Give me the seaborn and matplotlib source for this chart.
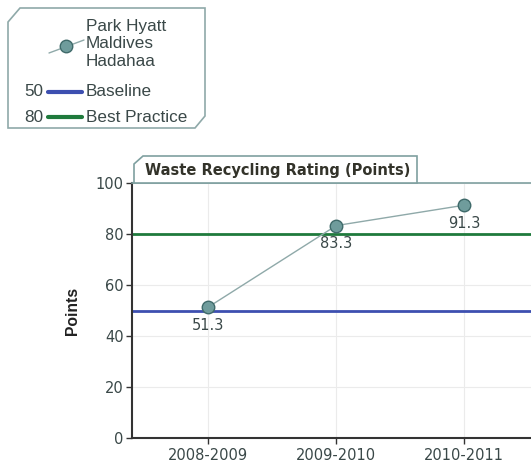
import matplotlib
matplotlib.use('Agg')
import matplotlib.pyplot as plt
import seaborn as sns
import pandas as pd
from matplotlib.lines import Line2D
from matplotlib.patches import Polygon

years = ['2008-2009', '2009-2010', '2010-2011']
points = [51.3, 83.3, 91.3]
baseline = 50
best_practice = 80
hotel = 'Park Hyatt\nMaldives\nHadahaa'
title = 'Waste Recycling Rating (Points)'

df = pd.DataFrame({'year': years, 'points': points})

sns.set_style('white')
plt.rcParams['font.family'] = ['DejaVu Sans']

W, H = 531, 465
fig = plt.figure(figsize=(W / 100, H / 100), dpi=100)
ax = fig.add_axes([132 / W, 1 - 438 / H, 1 - 132 / W, (438 - 183) / H])

line_c = '#8fa9a9'
mark_c = '#6f9c9c'
edge_c = '#3f6a6a'
blue = '#3d4fb0'
green = '#1f7a3c'
text_c = '#3a4848'
legend_font = ['Liberation Sans', 'DejaVu Sans']

ax.axhline(baseline, color=blue, lw=2, zorder=2)
ax.axhline(best_practice, color=green, lw=2, zorder=2)

sns.lineplot(data=df, x='year', y='points', ax=ax, color=line_c, lw=1,
             marker='o', markersize=9, markerfacecolor=mark_c,
             markeredgecolor=edge_c, markeredgewidth=1, zorder=3)

for i, v in enumerate(points):
    ax.annotate(f'{v:.1f}', (i, v), xytext=(0, -7.5), textcoords='offset points',
                ha='center', va='top', fontsize=10.5, color=text_c, zorder=4)

ax.set_ylim(0, 100)
ax.set_xlim(-0.594, 2.52)
ax.set_yticks([0, 20, 40, 60, 80, 100])
ax.grid(True, color='#ebebeb', lw=0.8)
ax.set_axisbelow(True)
ax.set_xlabel('')
ax.set_ylabel('Points', fontsize=11.3, fontweight='bold', color='#222222', labelpad=11,
              family=legend_font)
ax.tick_params(axis='both', direction='out', length=4, width=1, color='#333333',
               labelsize=10.5, labelcolor=text_c, left=True, bottom=True, pad=2)
ax.tick_params(axis='x', pad=3)
for s in ['left', 'bottom']:
    ax.spines[s].set_color('#333333')
    ax.spines[s].set_linewidth(1.5)
ax.spines['right'].set_visible(False)
ax.spines['top'].set_color('#7fa0a0')
ax.spines['top'].set_linewidth(1.2)


def px(x, y):
    return (x / W, 1 - y / H)


# title tab
tab = Polygon([px(134, 183), px(134, 164), px(143, 156), px(417, 156), px(417, 183)],
              closed=True, transform=fig.transFigure, facecolor='white',
              edgecolor='#7fa0a0', lw=1.2)
fig.patches.append(tab)
fig.text(145 / W, 1 - 170.5 / H, title, fontsize=10.5, fontweight='bold',
         color='#33332a', va='center', ha='left')

# legend box
box = Polygon([px(8, 128), px(8, 22), px(20, 8), px(205, 8), px(205, 116), px(195, 128)],
              closed=True, transform=fig.transFigure, facecolor='white',
              edgecolor='#8fa9a9', lw=1.2)
fig.patches.append(box)
fig.lines.append(Line2D([49 / W, 84 / W], [1 - 53 / H, 1 - 40 / H], transform=fig.transFigure,
                        color=line_c, lw=1))
fig.lines.append(Line2D([66 / W], [1 - 46.5 / H], transform=fig.transFigure, marker='o',
                        markersize=9, markerfacecolor=mark_c, markeredgecolor=edge_c, lw=0))
fig.text(86 / W, 1 - 44 / H, hotel, fontsize=12.3, color=text_c, va='center',
         ha='left', linespacing=1.2, family=legend_font)
fig.text(24 / W, 1 - 92 / H, str(baseline), fontsize=12.3, color=text_c, va='center',
         family=legend_font)
fig.lines.append(Line2D([48 / W, 82 / W], [1 - 92 / H, 1 - 92 / H], transform=fig.transFigure,
                        color=blue, lw=3))
fig.text(86 / W, 1 - 92 / H, 'Baseline', fontsize=12.3, color=text_c, va='center',
         family=legend_font)
fig.text(24 / W, 1 - 117 / H, str(best_practice), fontsize=12.3, color=text_c, va='center',
         family=legend_font)
fig.lines.append(Line2D([48 / W, 82 / W], [1 - 117 / H, 1 - 117 / H], transform=fig.transFigure,
                        color=green, lw=3))
fig.text(86 / W, 1 - 117 / H, 'Best Practice', fontsize=12.3, color=text_c, va='center',
         family=legend_font)

plt.savefig('out.png', dpi=100)
